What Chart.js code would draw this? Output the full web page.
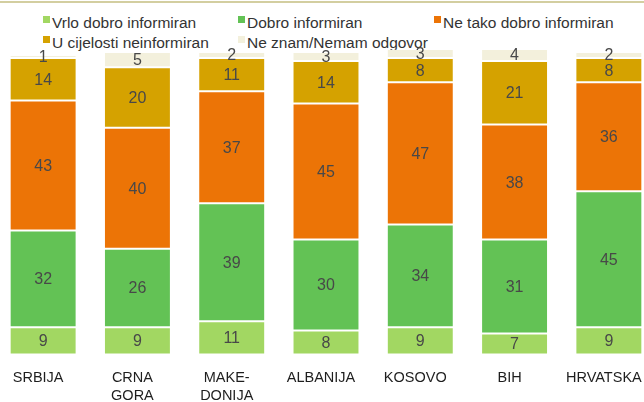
<!DOCTYPE html>
<html>
<head>
<meta charset="utf-8">
<script src="https://cdn.jsdelivr.net/npm/chart.js@4"></script>
<style>
  html, body { margin: 0; padding: 0; background: #fff; overflow: hidden; }
  body { width: 644px; height: 402px; position: relative; font-family: 'Liberation Sans', Arial, sans-serif; }
  #topline { position: absolute; left: 0; top: 1px; width: 644px; height: 2px; background: #d3cea0; }
  #chart { position: absolute; left: -4px; top: 0; }
  .item { position: absolute; height: 18px; line-height: 18px; font-size: 15.5px; color: #333; white-space: nowrap; }
  .item i { position: absolute; left: 0; top: 2.7px; width: 7px; height: 7px; }
  .item span { margin-left: 9px; }
</style>
</head>
<body>
<div id="topline"></div>
<div id="legend"></div>
<canvas id="chart" width="660" height="411"></canvas>
<script>
'use strict'

/* global Chart */

const categories = ['SRBIJA', ['CRNA', 'GORA'], ['MAKE-', 'DONIJA'], 'ALBANIJA', 'KOSOVO', 'BIH', 'HRVATSKA']

const seriesNames = ['Vrlo dobro informiran', 'Dobro informiran', 'Ne tako dobro informiran', 'U cijelosti neinformiran', 'Ne znam/Nemam odgovor']

const vrloDobro = [9, 9, 11, 8, 9, 7, 9]
const dobro = [32, 26, 39, 30, 34, 31, 45]
const neTako = [43, 40, 37, 45, 47, 38, 36]
const uCijelosti = [14, 20, 11, 14, 8, 21, 8]
const neZnam = [1, 5, 2, 3, 3, 4, 2]

const colors = ['#a2d762', '#63c255', '#ec7406', '#d5a200', '#f3f0dc']
const seriesValues = [vrloDobro, dobro, neTako, uCijelosti, neZnam]

// legend laid out in columns like the original
const legendSpots = [[43, 13.6], [238, 13.6], [434, 13.6], [43, 33.6], [238, 33.6]]
const legend = document.getElementById('legend')
seriesNames.forEach((name, i) => {
  const div = document.createElement('div')
  div.className = 'item'
  div.style.left = legendSpots[i][0] + 'px'
  div.style.top = legendSpots[i][1] + 'px'
  div.innerHTML = '<i style="background:' + colors[i] + '"></i><span>' + name + '</span>'
  legend.appendChild(div)
})

const segmentLabels = {
  id: 'segmentLabels',
  afterDatasetsDraw (chart) {
    const ctx = chart.ctx
    ctx.save()
    ctx.font = '16px "Liberation Sans", Arial, sans-serif'
    ctx.fillStyle = '#484848'
    ctx.textAlign = 'center'
    ctx.textBaseline = 'middle'
    chart.data.datasets.forEach((ds, i) => {
      const meta = chart.getDatasetMeta(i)
      meta.data.forEach((bar, j) => {
        ctx.fillText(String(ds.data[j]), bar.x, (bar.y + bar.base) / 2 + 1)
      })
    })
    ctx.restore()
  }
}

const chart = new Chart(document.getElementById('chart'), {
  type: 'bar',
  data: {
    labels: categories,
    datasets: seriesNames.map((name, i) => ({
      label: name,
      data: seriesValues[i],
      backgroundColor: colors[i],
      borderColor: 'rgba(255, 255, 255, 0.2)',
      borderWidth: 1,
      borderSkipped: false,
      barPercentage: 0.71,
      categoryPercentage: 1,
      clip: false
    }))
  },
  options: {
    responsive: false,
    animation: false,
    layout: { padding: { top: 52, left: 0, right: 0, bottom: 0 } },
    plugins: {
      legend: { display: false },
      tooltip: { enabled: false }
    },
    scales: {
      x: {
        stacked: true,
        grid: { display: false },
        border: { display: false },
        ticks: {
          color: '#1e1e1e',
          padding: 6.8,
          labelOffset: -5,
          maxRotation: 0,
          autoSkip: false,
          font: { family: '"Liberation Sans", Arial, sans-serif', size: 14.5, lineHeight: 1.2 }
        }
      },
      y: {
        stacked: true,
        display: false,
        min: 0,
        max: 100
      }
    }
  },
  plugins: [segmentLabels]
})
</script>
</body>
</html>
